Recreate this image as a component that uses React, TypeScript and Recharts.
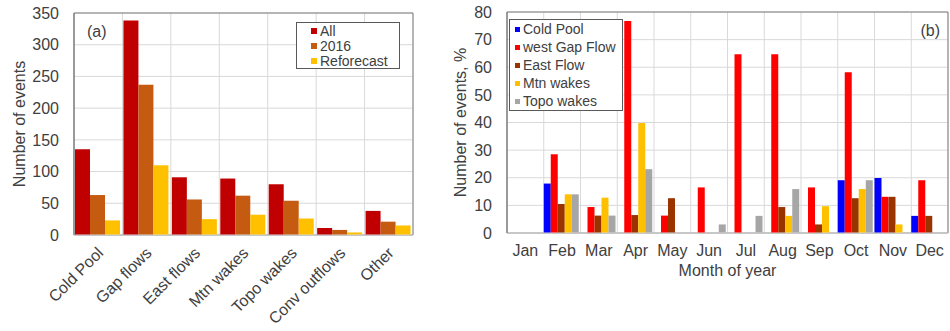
import React from "react";
import { BarChart, Bar, XAxis, YAxis, CartesianGrid, Legend, ReferenceArea } from "recharts";

// panel (a): event counts per type
const eventTypes = ["Cold Pool", "Gap flows", "East flows", "Mtn wakes", "Topo wakes", "Conv outflows", "Other"];
const allEvents = [135, 338, 91, 89, 80, 11, 38];
const events2016 = [63, 237, 56, 62, 54, 8, 21];
const reforecastEvents = [23, 110, 25, 32, 26, 4, 15];
const countTicks = [0, 50, 100, 150, 200, 250, 300, 350];
const countSeries = ["All", "2016", "Reforecast"];

// panel (b): monthly share of events, %
const months = ["Jan", "Feb", "Mar", "Apr", "May", "Jun", "Jul", "Aug", "Sep", "Oct", "Nov", "Dec"];
const coldPool = [0, 17.9, 0, 0, 0, 0, 0, 0, 0, 19.1, 19.9, 6.2];
const westGapFlow = [0, 28.5, 9.4, 76.7, 6.3, 16.5, 64.7, 64.7, 16.5, 58.2, 13.1, 19.1];
const eastFlow = [0, 10.5, 6.3, 6.5, 12.6, 0, 0, 9.4, 3.1, 12.6, 13.1, 6.2];
const mtnWakes = [0, 14.0, 12.8, 39.8, 0, 0, 0, 6.2, 9.7, 15.9, 3.1, 0];
const topoWakes = [0, 14.0, 6.3, 23.1, 0, 3.1, 6.2, 15.9, 0, 19.1, 0, 0];
const percentTicks = [0, 10, 20, 30, 40, 50, 60, 70, 80];
const monthSeries = ["Cold Pool", "west Gap Flow", "East Flow", "Mtn wakes", "Topo wakes"];

const countData = eventTypes.map((name, i) => ({
  name,
  all: allEvents[i],
  y2016: events2016[i],
  reforecast: reforecastEvents[i],
}));

const monthData = months.map((name, i) => ({
  name,
  cold: coldPool[i],
  gap: westGapFlow[i],
  east: eastFlow[i],
  mtn: mtnWakes[i],
  topo: topoWakes[i],
}));

const FONT = "'Liberation Sans', Arial, sans-serif";
const TEXT = "#404040";
const GRID = "#d9d9d9";
const BORDER = "#7f7f7f";

// Excel-style grid: vertical lines on category boundaries
const bandLines = (n: number) => ({ offset }: any) =>
  Array.from({ length: n + 1 }, (_, i) => offset.left + (i * offset.width) / n);

const SlantTick = ({ x, y, payload }: any) => (
  <g transform={`translate(${x + 6},${y + 19})`}>
    <text textAnchor="end" transform="rotate(-45)" fontSize={16} fill={TEXT} fontFamily={FONT}>
      {payload.value}
    </text>
  </g>
);

const BoxLegend = ({ payload, order, width, rowH, sq, padLeft }: any) => {
  const items = [...(payload || [])].sort((a: any, b: any) => order.indexOf(a.value) - order.indexOf(b.value));
  return (
    <div
      style={{
        width,
        border: "1px solid #595959",
        background: "#fff",
        fontFamily: FONT,
        fontSize: 14,
        color: TEXT,
        paddingLeft: padLeft,
        boxSizing: "border-box",
      }}
    >
      {items.map((p: any) => (
        <div key={p.value} style={{ display: "flex", alignItems: "center", height: rowH, whiteSpace: "nowrap" }}>
          <span style={{ width: sq, height: sq, background: p.color, marginRight: 3, flex: "none" }} />
          {p.value}
        </div>
      ))}
    </div>
  );
};

export default function App() {
  return (
    <div style={{ position: "absolute", left: 0, top: 0, width: 950, height: 331, background: "#fff", fontFamily: FONT }}>
      <div style={{ position: "absolute", left: 0, top: 0 }}>
        <BarChart width={420} height={331} data={countData} margin={{ top: 13, right: 7, bottom: 0, left: 0 }} barCategoryGap={1} barGap={0}>
          <CartesianGrid stroke={GRID} verticalCoordinatesGenerator={bandLines(eventTypes.length)} />
          <XAxis dataKey="name" height={96} interval={0} tickSize={0} tickMargin={0} tick={<SlantTick />} axisLine={{ stroke: GRID }} />
          <YAxis
            width={74}
            domain={[0, 350]}
            ticks={countTicks}
            tickSize={0}
            tickMargin={15}
            axisLine={{ stroke: BORDER }}
            tick={{ fontSize: 16, fill: TEXT, fontFamily: FONT }}
            label={{ value: "Number of events", angle: -90, position: "center", dx: -18, fontSize: 16, fill: TEXT, fontFamily: FONT }}
          />
          <Bar dataKey="all" name="All" fill="#c00000" isAnimationActive={false} />
          <Bar dataKey="y2016" name="2016" fill="#c55a11" isAnimationActive={false} />
          <Bar dataKey="reforecast" name="Reforecast" fill="#ffc000" isAnimationActive={false} />
          <ReferenceArea
            y1={0}
            y2={350}
            fill="none"
            stroke={BORDER}
            label={{ value: "(a)", position: "insideTopLeft", offset: 13, fontSize: 16, fill: TEXT, fontFamily: FONT }}
          />
          <Legend
            layout="vertical"
            align="center"
            verticalAlign="middle"
            wrapperStyle={{ left: 296, top: 22, width: 104 }}
            content={(props: any) => (
              <BoxLegend payload={props.payload} order={countSeries} width={104} rowH={15} sq={6} padLeft={14} />
            )}
          />
        </BarChart>
      </div>

      <div style={{ position: "absolute", left: 440, top: 0 }}>
        <BarChart width={510} height={331} data={monthData} margin={{ top: 12, right: 2, bottom: 0, left: 0 }} barCategoryGap={0} barGap={0}>
          <CartesianGrid stroke={GRID} verticalCoordinatesGenerator={bandLines(months.length)} />
          <XAxis
            dataKey="name"
            height={98}
            interval={0}
            tickSize={0}
            tickMargin={12}
            axisLine={{ stroke: GRID }}
            tick={{ fontSize: 16, fill: TEXT, fontFamily: FONT }}
            label={{ value: "Month of year", position: "insideTop", offset: 32, fontSize: 16, fill: TEXT, fontFamily: FONT }}
          />
          <YAxis
            width={67}
            domain={[0, 80]}
            ticks={percentTicks}
            tickSize={0}
            tickMargin={15}
            axisLine={{ stroke: BORDER }}
            tick={{ fontSize: 16, fill: TEXT, fontFamily: FONT }}
            label={{ value: "Number of events, %", angle: -90, position: "center", dx: -13.5, fontSize: 16, fill: TEXT, fontFamily: FONT }}
          />
          <Bar dataKey="cold" name="Cold Pool" fill="#0000ff" isAnimationActive={false} />
          <Bar dataKey="gap" name="west Gap Flow" fill="#ff0000" isAnimationActive={false} />
          <Bar dataKey="east" name="East Flow" fill="#993300" isAnimationActive={false} />
          <Bar dataKey="mtn" name="Mtn wakes" fill="#ffc000" isAnimationActive={false} />
          <Bar dataKey="topo" name="Topo wakes" fill="#a6a6a6" isAnimationActive={false} />
          <ReferenceArea
            y1={0}
            y2={80}
            fill="none"
            stroke={BORDER}
            label={{ value: "(b)", position: "insideTopRight", offset: 8, dy: 5, fontSize: 16, fill: TEXT, fontFamily: FONT }}
          />
          <Legend
            layout="vertical"
            align="center"
            verticalAlign="middle"
            wrapperStyle={{ left: 69, top: 19, width: 114 }}
            content={(props: any) => (
              <BoxLegend payload={props.payload} order={monthSeries} width={114} rowH={18} sq={5} padLeft={5} />
            )}
          />
        </BarChart>
      </div>
    </div>
  );
}
